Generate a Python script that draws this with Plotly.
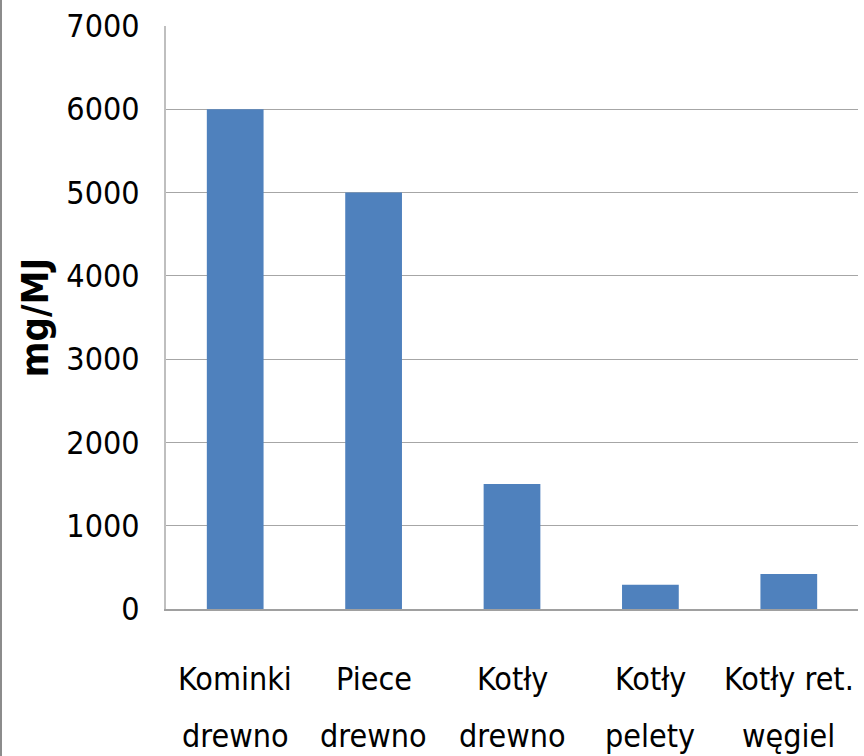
import plotly.graph_objects as go

# Emission factors by appliance type
categories = ["Kominki drewno", "Piece drewno", "Kotły drewno", "Kotły pelety", "Kotły ret. węgiel"]
label_line1 = ["Kominki", "Piece", "Kotły", "Kotły", "Kotły ret."]
label_line2 = ["drewno", "drewno", "drewno", "pelety", "węgiel"]
values = [6000, 5000, 1500, 290, 420]
y_ticks = [0, 1000, 2000, 3000, 4000, 5000, 6000, 7000]

FONT = "DejaVu Sans Condensed, Roboto, sans-serif"
LABEL_SIZE = 32

fig = go.Figure(
    go.Bar(
        x=categories,
        y=values,
        marker=dict(color="#4f81bd", line=dict(width=0)),
    )
)

# Two-line category labels with wide line spacing
annotations = []
for cat, l1, l2 in zip(categories, label_line1, label_line2):
    for text, shift in ((l1, -49), (l2, -106)):
        annotations.append(
            dict(
                x=cat, xref="x", y=0, yref="paper",
                text=text, showarrow=False,
                xanchor="center", yanchor="top", yshift=shift,
                font=dict(family=FONT, size=LABEL_SIZE, color="black"),
            )
        )

fig.update_layout(
    width=864,
    height=756,
    margin=dict(l=166, r=6, t=26, b=147),
    paper_bgcolor="white",
    plot_bgcolor="white",
    bargap=0.59,
    showlegend=False,
    font=dict(family=FONT, color="black", size=LABEL_SIZE),
    annotations=annotations,
    shapes=[
        dict(
            type="line", xref="paper", yref="paper",
            x0=-165 / 692, x1=-165 / 692, y0=-1.0, y1=1.1,
            line=dict(color="#8c8c8c", width=2),
        )
    ],
)

fig.update_yaxes(
    range=[0, 7000],
    tickvals=y_ticks,
    showgrid=True,
    gridcolor="#a6a6a6",
    gridwidth=1,
    showline=True,
    linecolor="#bfbfbf",
    linewidth=2,
    zeroline=False,
    ticks="",
    ticklabelstandoff=18,
    tickfont=dict(family=FONT, size=LABEL_SIZE, color="black"),
    title=dict(
        text="<b>mg/MJ</b>",
        font=dict(family=FONT, size=38, color="black"),
        standoff=6,
    ),
)

fig.update_xaxes(
    showline=True,
    linecolor="#a0a0a0",
    linewidth=2,
    ticks="",
    showticklabels=False,
)

fig.write_html("out.html")
